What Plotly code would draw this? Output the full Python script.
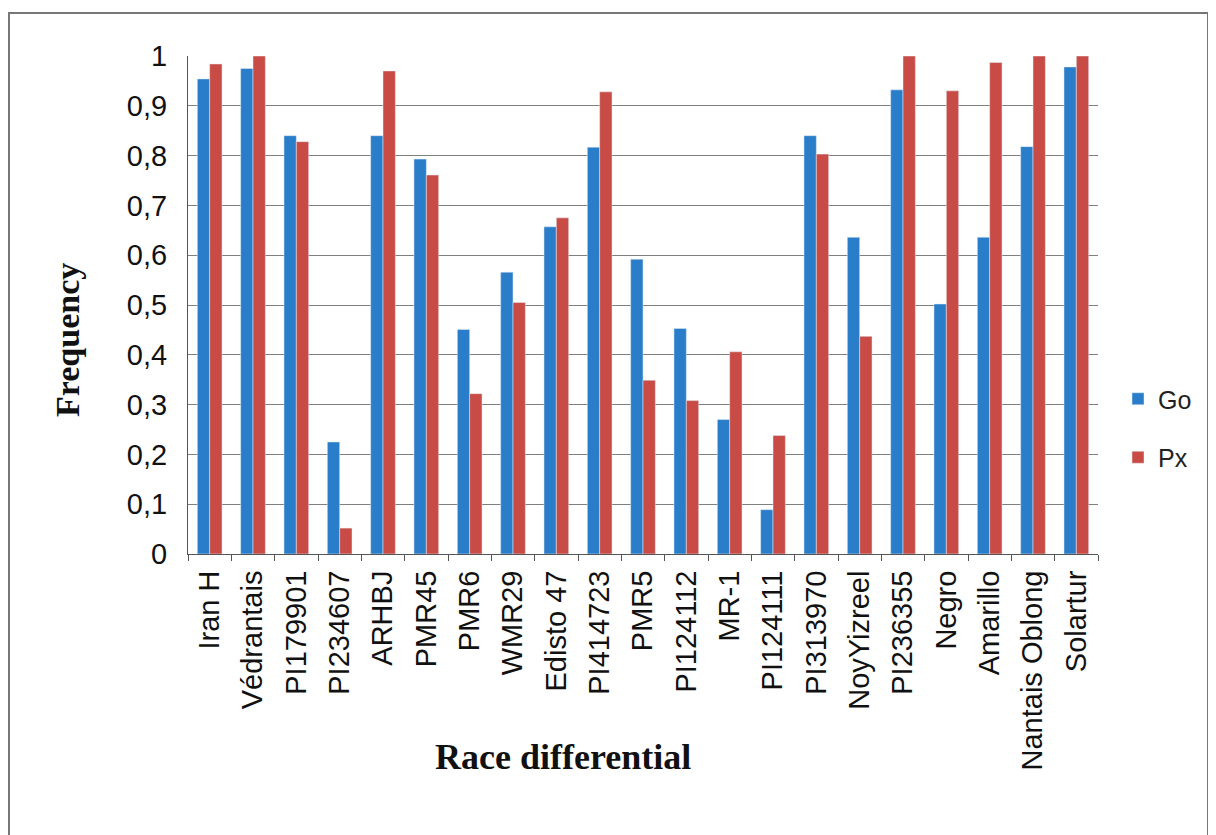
import plotly.graph_objects as go

categories = ["Iran H", "Védrantais", "PI179901", "PI234607", "ARHBJ", "PMR45", "PMR6",
              "WMR29", "Edisto 47", "PI414723", "PMR5", "PI124112", "MR-1", "PI124111",
              "PI313970", "NoyYizreel", "PI236355", "Negro", "Amarillo", "Nantais Oblong", "Solartur"]
go_values = [0.954, 0.975, 0.84, 0.225, 0.84, 0.793, 0.451, 0.566, 0.657, 0.817, 0.592,
             0.453, 0.27, 0.089, 0.84, 0.636, 0.932, 0.502, 0.636, 0.818, 0.978]
px_values = [0.984, 1.0, 0.828, 0.052, 0.97, 0.761, 0.322, 0.505, 0.675, 0.928, 0.349,
             0.308, 0.406, 0.238, 0.803, 0.437, 1.0, 0.93, 0.987, 1.0, 1.0]
y_ticks = [0, 0.1, 0.2, 0.3, 0.4, 0.5, 0.6, 0.7, 0.8, 0.9, 1]
y_ticktext = ["0", "0,1", "0,2", "0,3", "0,4", "0,5", "0,6", "0,7", "0,8", "0,9", "1"]

fig = go.Figure()
fig.add_trace(go.Bar(x=categories, y=go_values, name="Go", marker_color="#2a7dc8",
                     legendgroup="a"))
fig.add_trace(go.Bar(x=categories, y=px_values, name="Px", marker_color="#c84c45",
                     legendgroup="b"))

# figure coordinates (page is offset by 8px body margin)
W, H = 1208, 827
L, R, T, B = 180, 118, 48, 281
pw, ph = W - L - R, H - T - B


def fx(px):
    return (px - L) / pw


def fy(py):
    return (H - B - py) / ph


serif = "Liberation Serif, Times New Roman, serif"

fig.update_layout(
    width=W, height=H,
    margin=dict(l=L, r=R, t=T, b=B),
    paper_bgcolor="white", plot_bgcolor="white",
    barmode="group", bargap=0.43, bargroupgap=0,
    font=dict(family="Liberation Sans, Arial, sans-serif", color="#111"),
    showlegend=True,
    legend=dict(x=fx(1110), y=fy(368), xanchor="left", yanchor="top",
                font=dict(size=25, color="#222"), tracegroupgap=23,
                traceorder="grouped", bgcolor="rgba(0,0,0,0)"),
    shapes=[dict(type="rect", xref="paper", yref="paper",
                 x0=fx(1), x1=fx(1200), y0=fy(840), y1=fy(5),
                 line=dict(color="#777", width=2), fillcolor="rgba(0,0,0,0)", layer="below")],
    annotations=[
        dict(text="<b>Frequency</b>", x=fx(59), y=fy(332), xref="paper", yref="paper",
             textangle=-90, showarrow=False, xanchor="center", yanchor="middle",
             font=dict(family=serif, size=34, color="#111")),
        dict(text="<b>Race differential</b>", x=fx(555), y=fy(749), xref="paper", yref="paper",
             showarrow=False, xanchor="center", yanchor="middle",
             font=dict(family=serif, size=36, color="#111")),
    ],
)

fig.update_xaxes(
    type="category", tickangle=-90, tickfont=dict(size=29, color="#111"),
    showline=True, linecolor="#555", linewidth=1,
    ticks="outside", tickson="boundaries", ticklen=6, tickcolor="#555",
    ticklabelstandoff=4,
    showgrid=False,
)
fig.update_yaxes(
    range=[0, 1], tickvals=y_ticks, ticktext=y_ticktext,
    tickfont=dict(size=29, color="#111"),
    showline=True, linecolor="#555", linewidth=1,
    showgrid=True, gridcolor="#7f7f7f", gridwidth=1,
    ticks="", zeroline=False, ticklabelstandoff=14,
)

fig.write_html("out.html")
